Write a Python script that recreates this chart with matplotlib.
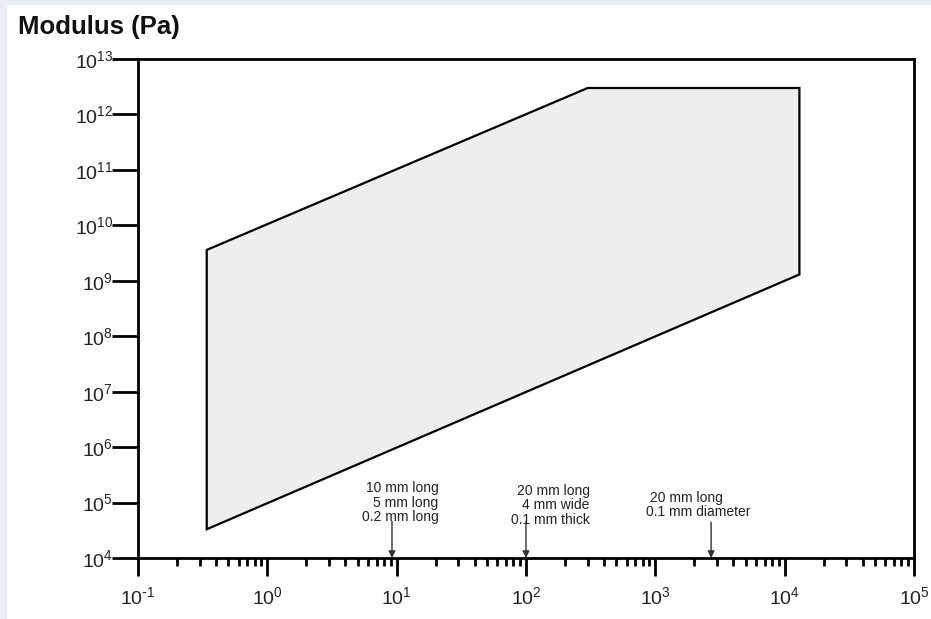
import numpy as np
import matplotlib
matplotlib.use("Agg")
import matplotlib.pyplot as plt
from matplotlib.patches import Rectangle
from matplotlib.ticker import LogLocator, NullLocator, FuncFormatter

plt.rcParams['font.family'] = ['Liberation Sans', 'DejaVu Sans']
plt.rcParams['mathtext.default'] = 'regular'

# outline of the region: length scale (x) vs modulus in Pa (y)
region_x = [0.34, 0.34, 300, 1.3e4, 1.3e4]
region_y = [3.3e4, 3.6e9, 3.0e12, 3.0e12, 1.3e9]

# sample geometries marked on the length axis
sample_x = [9.2, 100, 2700]
sample_text = ["10 mm long\n5 mm long\n0.2 mm long",
               "20 mm long\n4 mm wide\n0.1 mm thick",
               " 20 mm long\n0.1 mm diameter"]
sample_text_x = [21, 310, 850]
sample_text_y = [1.0e5, 9.0e4, 9.0e4]
sample_align = ['right', 'right', 'left']
sample_arrow_top = [4.6e4, 4.6e4, 4.4e4]


def pow10_label(val, pos):
    # plain hyphen for negative exponents
    e = int(round(np.log10(val)))
    exp = r'\text{-}%d' % -e if e < 0 else '%d' % e
    return r'$10^{%s}$' % exp


fig = plt.figure(figsize=(9.31, 6.19), dpi=100)
fig.patch.set_facecolor('white')
# light page edge along top and left
fig.patches.append(Rectangle((0, 1 - 4 / 619), 1, 4 / 619, transform=fig.transFigure,
                             color='#e8edf6', zorder=0))
fig.patches.append(Rectangle((0, 0), 6 / 931, 1, transform=fig.transFigure,
                             color='#e8edf6', zorder=0))

ax = fig.add_axes([138 / 931, 61 / 619, (914 - 138) / 931, (558 - 59) / 619])
ax.set_xscale('log')
ax.set_yscale('log')
ax.set_xlim(0.1, 1e5)
ax.set_ylim(1e4, 1e13)

ax.fill(region_x, region_y, facecolor='#eeeeee', edgecolor='black', linewidth=1.6, zorder=2)

for x, txt, tx, ty, ha, top in zip(sample_x, sample_text, sample_text_x, sample_text_y,
                                   sample_align, sample_arrow_top):
    ax.text(tx, ty, txt, ha=ha, va='center', multialignment=ha,
            fontsize=10, linespacing=1.05, color='#222222', zorder=3)
    ax.annotate('', xy=(x, 1e4), xytext=(x, top),
                arrowprops=dict(arrowstyle='-|>', color='#333333', lw=1,
                                mutation_scale=10, shrinkA=0, shrinkB=0),
                zorder=3)

for side in ['left', 'right', 'top', 'bottom']:
    ax.spines[side].set_linewidth(2)
    ax.spines[side].set_color('black')

ax.xaxis.set_major_locator(LogLocator(base=10, numticks=10))
ax.xaxis.set_minor_locator(LogLocator(base=10, subs=np.arange(2, 10), numticks=20))
ax.yaxis.set_major_locator(LogLocator(base=10, numticks=20))
ax.yaxis.set_minor_locator(NullLocator())
ax.xaxis.set_major_formatter(FuncFormatter(pow10_label))
ax.yaxis.set_major_formatter(FuncFormatter(pow10_label))

ax.tick_params(axis='y', which='major', direction='out', length=19, width=2,
               pad=-1, labelsize=14, labelcolor='#222222')
ax.tick_params(axis='x', which='major', direction='out', length=13, width=2,
               pad=7, labelsize=14, labelcolor='#222222')
ax.tick_params(axis='x', which='minor', direction='out', length=6, width=2)

fig.text(18 / 931, 1 - 27 / 619, 'Modulus (Pa)', fontsize=18.5, fontweight='bold',
         ha='left', va='center', color='#111111')

fig.savefig('out.png', dpi=100, facecolor=fig.get_facecolor())
